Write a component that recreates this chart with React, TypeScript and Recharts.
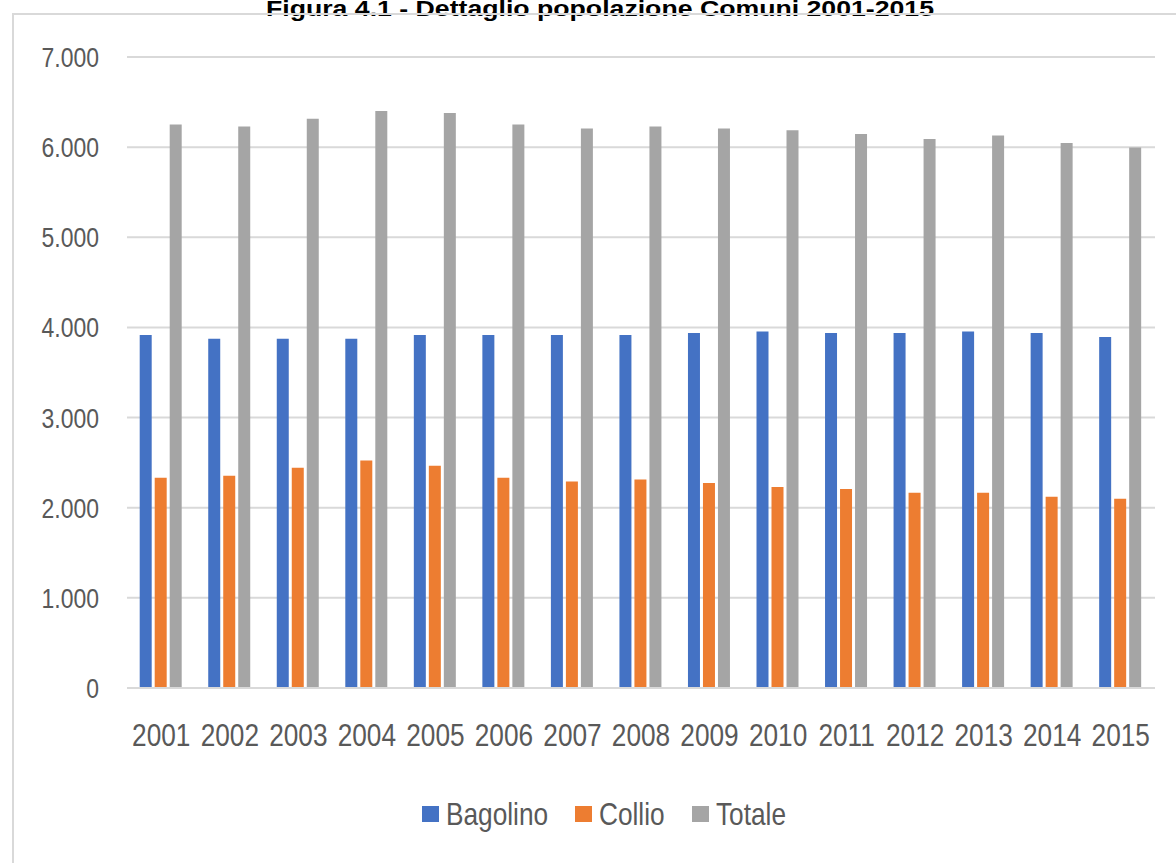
import { BarChart, Bar, XAxis, YAxis, CartesianGrid, Legend } from 'recharts'

const years = ['2001', '2002', '2003', '2004', '2005', '2006', '2007', '2008', '2009', '2010', '2011', '2012', '2013', '2014', '2015']
const bagolino = [3915, 3875, 3875, 3875, 3915, 3915, 3915, 3915, 3937, 3956, 3937, 3937, 3956, 3937, 3893]
const collio = [2333, 2355, 2444, 2525, 2466, 2333, 2292, 2314, 2273, 2229, 2207, 2166, 2166, 2122, 2100]
const totale = [6250, 6230, 6315, 6400, 6380, 6250, 6207, 6230, 6208, 6188, 6146, 6090, 6128, 6045, 5995]
const yTicks = [0, 1000, 2000, 3000, 4000, 5000, 6000, 7000]

const series = [
  { key: 'Bagolino', color: '#4472C4' },
  { key: 'Collio', color: '#ED7D31' },
  { key: 'Totale', color: '#A5A5A5' },
]

const data = years.map((year, i) => ({
  year,
  Bagolino: bagolino[i],
  Collio: collio[i],
  Totale: totale[i],
}))

// no narrow font installed, so squeeze Liberation Sans horizontally
const FONT = "'Liberation Sans', Arial, sans-serif"
const SQUEEZE = 0.82
const TEXT = '#595959'

// thousands with a dot, as in the italian original
const fmt = (v: number) => String(v).replace(/\B(?=(\d{3})+(?!\d))/g, '.')

const measure = (s: string, size: number) => {
  const ctx = document.createElement('canvas').getContext('2d')
  if (!ctx) return s.length * size * 0.5
  ctx.font = `${size}px ${FONT}`
  return ctx.measureText(s).width
}

function XTick(props: any) {
  const { x, y, payload } = props
  return (
    <g transform={`translate(${x},${y}) scale(${SQUEEZE},1)`}>
      <text x={0} y={0} dy="0.71em" textAnchor="middle" fill={TEXT} fontSize={32} fontFamily={FONT}>
        {payload.value}
      </text>
    </g>
  )
}

function YTick(props: any) {
  const { x, y, payload } = props
  return (
    <g transform={`translate(${x},${y}) scale(${SQUEEZE},1)`}>
      <text x={0} y={0} dy="0.355em" textAnchor="end" fill={TEXT} fontSize={28} fontFamily={FONT}>
        {fmt(payload.value)}
      </text>
    </g>
  )
}

function LegendRow() {
  const size = 32
  return (
    <div style={{ display: 'flex', alignItems: 'center', paddingLeft: 422, fontFamily: FONT, fontSize: size, color: TEXT }}>
      {series.map((s) => {
        const w = measure(s.key, size) * SQUEEZE
        return (
          <div key={s.key} style={{ display: 'flex', alignItems: 'center', marginRight: 27 }}>
            <span style={{ display: 'inline-block', width: 17, height: 16, background: s.color, marginRight: 7 }} />
            <span style={{ display: 'inline-block', width: w, lineHeight: '36px', whiteSpace: 'nowrap' }}>
              <span style={{ display: 'inline-block', transform: `scaleX(${SQUEEZE})`, transformOrigin: 'left center' }}>{s.key}</span>
            </span>
          </div>
        )
      })}
    </div>
  )
}

export default function App() {
  return (
    <div style={{ position: 'absolute', left: 0, top: 0, width: 1176, height: 863, background: '#fff', overflow: 'hidden' }}>
      <svg width={1176} height={30} style={{ position: 'absolute', left: 0, top: 0 }}>
        <text x={266} y={16} textLength={668} lengthAdjust="spacingAndGlyphs"
          style={{ fontFamily: FONT, fontWeight: 'bold', fontSize: 22, fill: '#000' }}>
          Figura 4.1 - Dettaglio popolazione Comuni 2001-2015
        </text>
      </svg>
      <div style={{ position: 'absolute', left: 12, top: 13, width: 1200, height: 900, border: '2px solid #d9d9d9', boxSizing: 'border-box' }} />
      <div style={{ position: 'absolute', left: 0, top: 0 }}>
        <BarChart
          width={1176}
          height={863}
          data={data}
          margin={{ top: 57, right: 21, bottom: 115, left: 0 }}
          barCategoryGap={12.7}
          barGap={3}
        >
          <CartesianGrid vertical={false} stroke="#d9d9d9" strokeWidth={2} />
          <XAxis
            dataKey="year"
            interval={0}
            height={60}
            tickLine={false}
            tickSize={0}
            tickMargin={35}
            axisLine={{ stroke: '#d9d9d9', strokeWidth: 2 }}
            tick={<XTick />}
          />
          <YAxis
            width={127}
            domain={[0, 7000]}
            ticks={yTicks}
            interval={0}
            axisLine={false}
            tickLine={false}
            tickSize={0}
            tickMargin={28}
            tick={<YTick />}
          />
          <Legend
            layout="horizontal"
            verticalAlign="middle"
            align="center"
            wrapperStyle={{ position: 'absolute', left: 0, top: 796, width: 1176 }}
            content={() => <LegendRow />}
          />
          {series.map((s) => (
            <Bar key={s.key} dataKey={s.key} fill={s.color} isAnimationActive={false} />
          ))}
        </BarChart>
      </div>
    </div>
  )
}
